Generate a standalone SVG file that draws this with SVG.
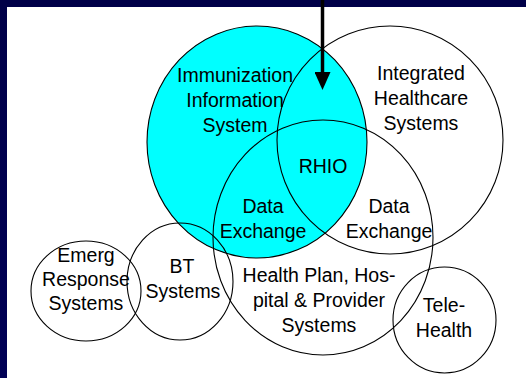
<svg xmlns="http://www.w3.org/2000/svg" width="526" height="378" viewBox="0 0 526 378">
  <defs>
    <style>
      .c { fill: none; stroke: #000; stroke-width: 1.1; }
      .cy { fill: #00FFFF; stroke: #000; stroke-width: 1.1; }
      text { font-family: "Liberation Sans", Arial, sans-serif; font-size: 19.5px; fill: #000; text-anchor: middle; }
    </style>
    <marker id="ah" viewBox="0 0 18 16" refX="0" refY="8" markerWidth="18" markerHeight="16" markerUnits="userSpaceOnUse" orient="auto">
      <path d="M0,0 L18,8 L0,16 Z" fill="#000"/>
    </marker>
    <linearGradient id="bg" x1="0" y1="0" x2="0" y2="1">
      <stop offset="0" stop-color="#000048"/>
      <stop offset="1" stop-color="#000055"/>
    </linearGradient>
  </defs>
  <rect x="0" y="0" width="526" height="378" fill="url(#bg)"/>
  <rect x="7" y="7" width="519" height="371" fill="#fff"/>

  <g id="immunization">
    <ellipse class="cy" cx="257" cy="142" rx="110" ry="116"/>
  </g>
  <g id="integrated">
    <ellipse class="c" cx="390" cy="140" rx="113" ry="114"/>
  </g>
  <g id="healthplan">
    <ellipse class="c" cx="323" cy="237.5" rx="110" ry="117.5"/>
  </g>
  <g id="emerg">
    <ellipse class="c" cx="86" cy="291" rx="55" ry="50"/>
  </g>
  <g id="bt">
    <ellipse class="c" cx="180" cy="281.5" rx="53" ry="58.5"/>
  </g>
  <g id="telehealth">
    <ellipse class="c" cx="444.5" cy="320" rx="51.5" ry="53"/>
  </g>

  <g id="labels">
    <text x="235" y="82">Immunization</text>
    <text x="235" y="107">Information</text>
    <text x="235" y="132">System</text>
    <text x="421" y="80">Integrated</text>
    <text x="421" y="105">Healthcare</text>
    <text x="421" y="130">Systems</text>
    <text x="323" y="173">RHIO</text>
    <text x="263" y="213">Data</text>
    <text x="263" y="238">Exchange</text>
    <text x="389" y="213">Data</text>
    <text x="389" y="238">Exchange</text>
    <text x="86" y="262">Emerg</text>
    <text x="86" y="286">Response</text>
    <text x="86" y="310">Systems</text>
    <text x="182" y="273">BT</text>
    <text x="183" y="298">Systems</text>
    <text x="319" y="282">Health Plan, Hos-</text>
    <text x="319" y="307">pital &amp; Provider</text>
    <text x="319" y="332">Systems</text>
    <text x="444" y="312">Tele-</text>
    <text x="444" y="337">Health</text>
  </g>

  <g id="connectors">
    <line x1="322.5" y1="0" x2="322.5" y2="72" stroke="#000" stroke-width="3.5" marker-end="url(#ah)"/>
  </g>
</svg>
